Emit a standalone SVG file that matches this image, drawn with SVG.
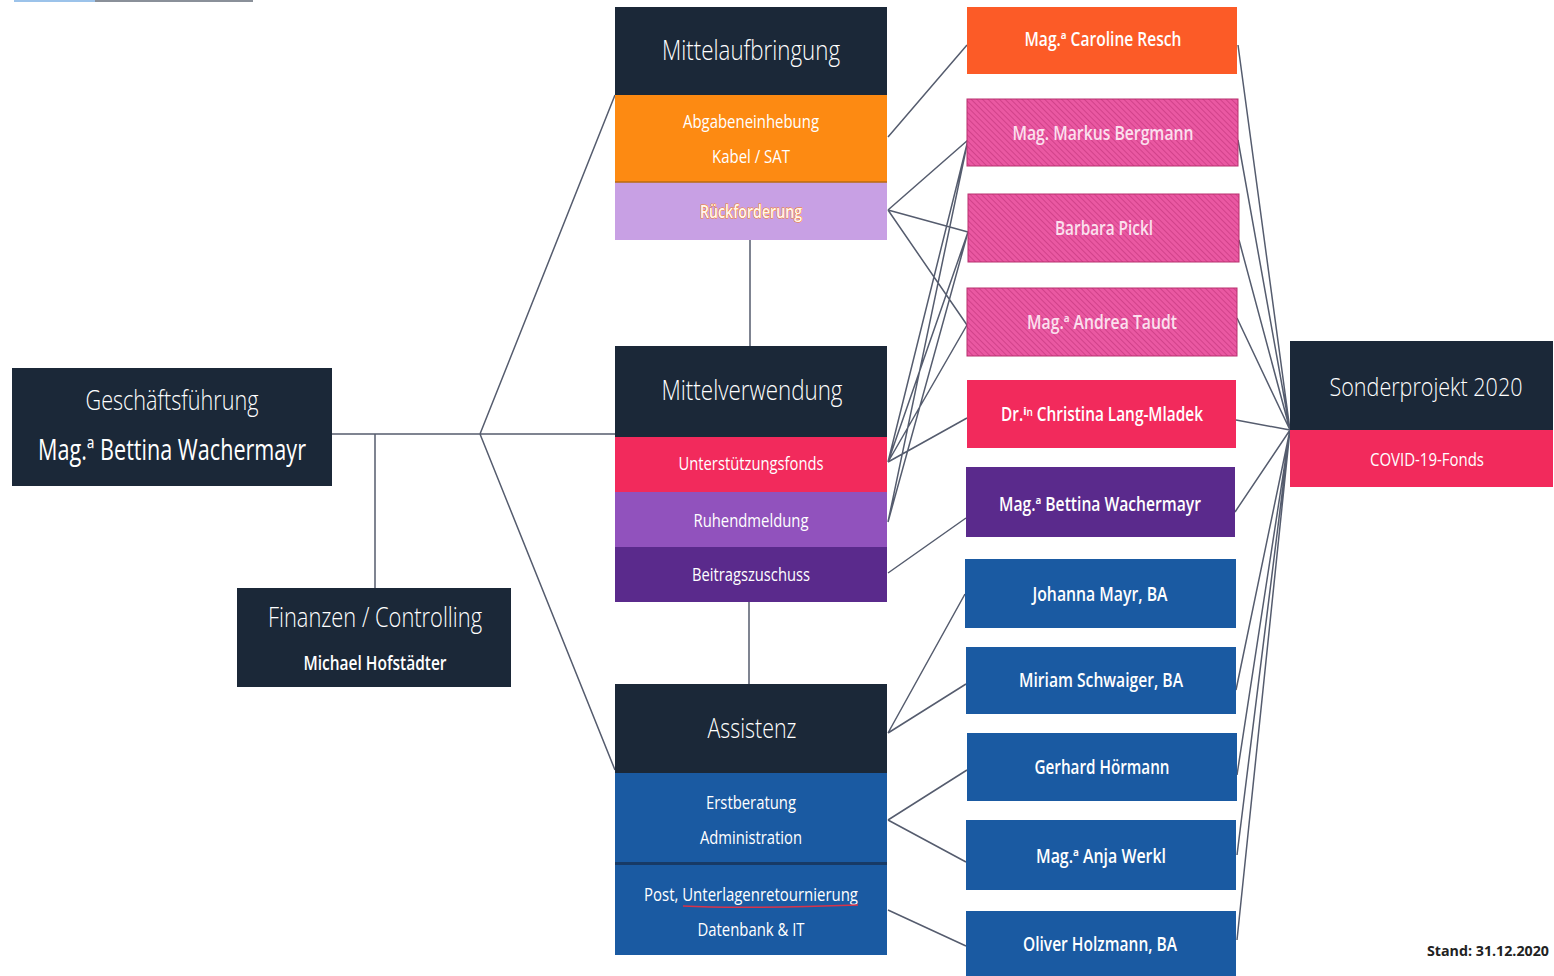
<svg xmlns="http://www.w3.org/2000/svg" width="1554" height="976" viewBox="0 0 1554 976">
<defs>
<pattern id="hatch" width="4" height="4" patternUnits="userSpaceOnUse" patternTransform="rotate(-45)">
<rect width="4" height="4" fill="#ea58a2"/>
<line x1="0" y1="0" x2="0" y2="4" stroke="#c93a82" stroke-width="1.5"/>
</pattern>
</defs>
<style>
.t{font-family:"Open Sans","Liberation Sans","DejaVu Sans",sans-serif;fill:#ffffff;text-anchor:middle}
.h{font-size:28px;font-weight:300}
.s{font-size:18px;font-weight:400}
.n{font-size:19px;font-weight:600}
.c{stroke:#555c6e;stroke-width:1.5;fill:none}
.dk{fill:#1b2838}
.bl{fill:#1a5aa2}
.pk{fill:url(#hatch);stroke:#b8306e;stroke-width:1}
.pt{fill:#fbe0ee}
</style>
<rect width="1554" height="976" fill="#ffffff"/>
<line x1="14" y1="1" x2="95" y2="1" stroke="#9cc3ea" stroke-width="2"/>
<line x1="95" y1="1" x2="253" y2="1" stroke="#8a9099" stroke-width="2"/>

<g id="connectors">
<path class="c" d="M332,434 H615 M375,434 V588 M480,434 L615,95 M480,434 L615,770 M750,240 V346 M749,602 V684"/>
<path class="c" d="M888,137 L967,45 M888,210 L968,140 M888,210 L968,232 M888,210 L967,325 M888,462 L968,140 M888,462 L968,232 M888,462 L967,325 M888,462 L967,418 M888,522 L968,140 M888,522 L968,232 M888,573 L966,518 M888,733 L965,594 M888,733 L966,684 M888,820 L967,770 M888,820 L966,862 M888,910 L966,946"/>
<path class="c" d="M1290,430 L1238,45 M1290,430 L1238,140 M1290,430 L1239,240 M1290,430 L1237,318 M1290,430 L1236,420 M1290,430 L1235,512 M1290,430 L1236,690 M1290,430 L1237,775 M1290,430 L1237,855 M1290,430 L1237,940"/>
</g>

<g id="geschaeftsfuehrung">
<rect class="dk" x="12" y="368" width="320" height="118"/>
<text class="t h" x="172" y="410" textLength="173" lengthAdjust="spacingAndGlyphs">Geschäftsführung</text>
<text class="t" x="172" y="460" font-size="29" font-weight="500" textLength="268" lengthAdjust="spacingAndGlyphs">Mag.ª Bettina Wachermayr</text>
</g>

<g id="finanzen">
<rect class="dk" x="237" y="588" width="274" height="99"/>
<text class="t h" x="375" y="627" textLength="214" lengthAdjust="spacingAndGlyphs">Finanzen / Controlling</text>
<text class="t n" x="375" y="670" textLength="143" lengthAdjust="spacingAndGlyphs">Michael Hofstädter</text>
</g>

<g id="mittelaufbringung">
<rect class="dk" x="615" y="7" width="272" height="88"/>
<rect x="615" y="95" width="272" height="87" fill="#fd8a12"/>
<rect x="615" y="182" width="272" height="58" fill="#c8a0e4"/>
<line x1="615" y1="182" x2="887" y2="182" stroke="#b86a10" stroke-width="1.5"/>
<text class="t h" x="751" y="60" textLength="178" lengthAdjust="spacingAndGlyphs">Mittelaufbringung</text>
<text class="t s" x="751" y="128" textLength="136" lengthAdjust="spacingAndGlyphs">Abgabeneinhebung</text>
<text class="t s" x="751" y="163" textLength="78" lengthAdjust="spacingAndGlyphs">Kabel / SAT</text>
<text class="t" x="751" y="218" font-size="18" font-weight="600" style="fill:#fff6ec;stroke:#f58220;stroke-width:1.2;paint-order:stroke" textLength="102" lengthAdjust="spacingAndGlyphs">Rückforderung</text>
</g>

<g id="mittelverwendung">
<rect class="dk" x="615" y="346" width="272" height="91"/>
<rect x="615" y="437" width="272" height="55" fill="#f22a5c"/>
<rect x="615" y="492" width="272" height="55" fill="#9152bd"/>
<rect x="615" y="547" width="272" height="55" fill="#5a2a8c"/>
<text class="t h" x="752" y="400" textLength="181" lengthAdjust="spacingAndGlyphs">Mittelverwendung</text>
<text class="t s" x="751" y="470" textLength="145" lengthAdjust="spacingAndGlyphs">Unterstützungsfonds</text>
<text class="t s" x="751" y="527" textLength="115" lengthAdjust="spacingAndGlyphs">Ruhendmeldung</text>
<text class="t s" x="751" y="581" textLength="118" lengthAdjust="spacingAndGlyphs">Beitragszuschuss</text>
</g>

<g id="assistenz">
<rect class="dk" x="615" y="684" width="272" height="89"/>
<rect class="bl" x="615" y="773" width="272" height="89"/>
<rect x="615" y="862" width="272" height="3" fill="#173a66"/>
<rect class="bl" x="615" y="865" width="272" height="90"/>
<text class="t h" x="752" y="738" textLength="89" lengthAdjust="spacingAndGlyphs">Assistenz</text>
<text class="t s" x="751" y="809" textLength="90" lengthAdjust="spacingAndGlyphs">Erstberatung</text>
<text class="t s" x="751" y="844" textLength="102" lengthAdjust="spacingAndGlyphs">Administration</text>
<text class="t s" x="751" y="901" textLength="214" lengthAdjust="spacingAndGlyphs">Post, Unterlagenretournierung</text>
<path d="M683,906 Q740,909 858,905" stroke="#d8334a" stroke-width="1.5" fill="none"/>
<text class="t s" x="751" y="936" textLength="107" lengthAdjust="spacingAndGlyphs">Datenbank &amp; IT</text>
</g>

<g id="sonderprojekt">
<rect class="dk" x="1290" y="341" width="263" height="89"/>
<rect x="1290" y="430" width="263" height="57" fill="#f22a5c"/>
<text class="t" x="1426" y="396" font-size="25" font-weight="300" textLength="193" lengthAdjust="spacingAndGlyphs">Sonderprojekt 2020</text>
<text class="t s" x="1427" y="466" textLength="114" lengthAdjust="spacingAndGlyphs">COVID-19-Fonds</text>
</g>

<g id="p-resch">
<rect x="967" y="7" width="270" height="67" fill="#fc5b27"/>
<text class="t n" x="1103" y="46" textLength="157" lengthAdjust="spacingAndGlyphs">Mag.ª Caroline Resch</text>
</g>
<g id="p-bergmann">
<rect class="pk" x="967" y="99" width="271" height="67"/>
<text class="t n pt" x="1103" y="140" textLength="181" lengthAdjust="spacingAndGlyphs">Mag. Markus Bergmann</text>
</g>
<g id="p-pickl">
<rect class="pk" x="968" y="194" width="271" height="68"/>
<text class="t n pt" x="1104" y="235" textLength="98" lengthAdjust="spacingAndGlyphs">Barbara Pickl</text>
</g>
<g id="p-taudt">
<rect class="pk" x="967" y="288" width="270" height="68"/>
<text class="t n pt" x="1102" y="329" textLength="150" lengthAdjust="spacingAndGlyphs">Mag.ª Andrea Taudt</text>
</g>
<g id="p-lang">
<rect x="967" y="380" width="269" height="68" fill="#f22a5c"/>
<text class="t n" x="1102" y="421" textLength="202" lengthAdjust="spacingAndGlyphs">Dr.ⁱⁿ Christina Lang-Mladek</text>
</g>
<g id="p-wachermayr">
<rect x="966" y="467" width="269" height="70" fill="#5a2a8c"/>
<text class="t n" x="1100" y="511" textLength="202" lengthAdjust="spacingAndGlyphs">Mag.ª Bettina Wachermayr</text>
</g>
<g id="p-mayr">
<rect class="bl" x="965" y="559" width="271" height="69"/>
<text class="t n" x="1100" y="601" textLength="135" lengthAdjust="spacingAndGlyphs">Johanna Mayr, BA</text>
</g>
<g id="p-schwaiger">
<rect class="bl" x="966" y="647" width="270" height="67"/>
<text class="t n" x="1101" y="687" textLength="164" lengthAdjust="spacingAndGlyphs">Miriam Schwaiger, BA</text>
</g>
<g id="p-hoermann">
<rect class="bl" x="967" y="733" width="270" height="68"/>
<text class="t n" x="1102" y="774" textLength="135" lengthAdjust="spacingAndGlyphs">Gerhard Hörmann</text>
</g>
<g id="p-werkl">
<rect class="bl" x="966" y="820" width="270" height="70"/>
<text class="t n" x="1101" y="863" textLength="130" lengthAdjust="spacingAndGlyphs">Mag.ª Anja Werkl</text>
</g>
<g id="p-holzmann">
<rect class="bl" x="966" y="911" width="270" height="65"/>
<text class="t n" x="1100" y="951" textLength="154" lengthAdjust="spacingAndGlyphs">Oliver Holzmann, BA</text>
</g>

<text x="1427" y="956" font-family="Open Sans, Liberation Sans, sans-serif" font-size="15" font-weight="700" fill="#222222" textLength="122" lengthAdjust="spacingAndGlyphs">Stand: 31.12.2020</text>
</svg>
